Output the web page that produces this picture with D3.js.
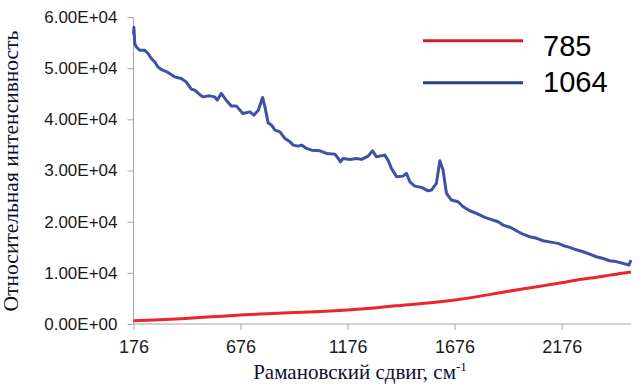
<!DOCTYPE html>
<html><head><meta charset="utf-8">
<script src="https://cdn.jsdelivr.net/npm/d3@7/dist/d3.min.js"></script>
<style>
body{margin:0;background:#fff;}
svg{display:block;}
.serif{font-family:"Liberation Serif","Times New Roman","DejaVu Serif",serif;}
.sans{font-family:"Liberation Sans",Arial,sans-serif;}
</style></head>
<body>
<svg id="chart" width="643" height="387"></svg>
<script>
// ---- data ----
const xTicks = [176, 676, 1176, 1676, 2176];
const yTicks = [0, 10000, 20000, 30000, 40000, 50000, 60000];
const seriesNames = ["785", "1064"];

const red785X = [176, 300, 400, 540, 676, 800, 900, 1050, 1176, 1300, 1400, 1550, 1676, 1790, 1887, 2000, 2100, 2176, 2260, 2340, 2400, 2460, 2500];
const red785Y = [650, 850, 1050, 1400, 1750, 2000, 2200, 2450, 2750, 3150, 3550, 4100, 4700, 5400, 6100, 6900, 7550, 8050, 8700, 9150, 9550, 9900, 10150];

const blue1064X = [176, 178, 182, 189, 205, 228, 244, 259, 275, 290, 306, 337, 368, 399, 422, 446, 462, 485, 500, 532, 555, 567, 586, 609, 633, 656, 687, 720, 738, 759, 779, 790, 805, 821, 837, 860, 883, 907, 922, 945, 961, 985, 1008, 1047, 1078, 1117, 1132, 1143, 1155, 1187, 1218, 1241, 1272, 1293, 1311, 1350, 1365, 1381, 1405, 1435, 1451, 1467, 1490, 1521, 1552, 1568, 1591, 1607, 1622, 1638, 1661, 1692, 1716, 1747, 1778, 1817, 1856, 1879, 1902, 1935, 1965, 1995, 2027, 2060, 2089, 2125, 2159, 2185, 2214, 2245, 2276, 2310, 2338, 2370, 2400, 2430, 2462, 2490, 2500];
const blue1064Y = [56500, 58000, 54800, 54160, 53510, 53510, 52870, 51890, 51230, 50250, 49740, 49160, 48300, 47990, 47320, 45900, 45700, 44860, 44390, 44590, 44390, 43750, 45060, 43750, 42630, 42630, 41150, 41460, 40820, 41790, 44270, 42440, 39310, 38860, 37890, 37560, 36270, 35600, 34960, 34760, 34960, 34310, 33980, 33850, 33340, 33200, 32360, 31700, 32360, 32170, 32360, 32170, 32810, 33850, 32670, 33010, 32030, 30410, 28770, 28900, 29430, 27790, 26950, 26700, 26030, 26170, 27480, 31900, 30080, 25530, 24220, 23890, 22910, 22130, 21620, 20840, 20310, 19980, 19330, 18900, 18220, 17550, 17050, 16750, 16270, 16000, 15760, 15300, 14980, 14500, 14120, 13600, 13140, 12800, 12360, 12200, 11850, 11520, 12500];

// ---- layout ----
const svg = d3.select("#chart");
const x = d3.scaleLinear().domain([176, 2500]).range([133.5, 631]);
const y = d3.scaleLinear().domain([0, 60000]).range([324, 17]);

function sci(v){
  if (v === 0) return "0.00E+00";
  const e = Math.floor(Math.log10(Math.abs(v)));
  const m = v / Math.pow(10, e);
  return m.toFixed(2) + "E" + (e >= 0 ? "+" : "-") + String(Math.abs(e)).padStart(2, "0");
}

const axisColor = "#a6a6a6";

// y axis
const gy = svg.append("g").attr("transform", "translate(133.5,0)")
  .call(d3.axisLeft(y).tickValues(yTicks).tickFormat(sci).tickSize(6).tickPadding(10));
gy.attr("font-family", null);
gy.select(".domain").attr("stroke", axisColor).attr("d", "M0," + y(60000) + "V" + y(0));
gy.selectAll(".tick line").attr("stroke", axisColor);
gy.selectAll(".tick text").attr("class", "sans").attr("font-size", 17).attr("fill", "#1a1a1a");

// x axis
const gx = svg.append("g").attr("transform", "translate(0,324)")
  .call(d3.axisBottom(x).tickValues(xTicks).tickFormat(d3.format("d")).tickSize(6).tickPadding(10));
gx.attr("font-family", null);
gx.select(".domain").attr("stroke", axisColor).attr("d", "M" + x(176) + ",0H" + x(2500));
gx.selectAll(".tick line").attr("stroke", axisColor);
gx.selectAll(".tick text").attr("class", "sans").attr("font-size", 18).attr("fill", "#1a1a1a");

// lines
const red = red785X.map((d, i) => [d, red785Y[i]]);
const blue = blue1064X.map((d, i) => [d, blue1064Y[i]]);

svg.append("path").datum(red)
  .attr("fill", "none").attr("stroke", "#e8262c").attr("stroke-width", 3)
  .attr("d", d3.line().x(d => x(d[0])).y(d => y(d[1])).curve(d3.curveMonotoneX));

svg.append("path").datum(blue)
  .attr("fill", "none").attr("stroke", "#3f51a6").attr("stroke-width", 3).attr("stroke-linejoin", "round")
  .attr("d", d3.line().x(d => x(d[0])).y(d => y(d[1])));

// axis titles
const xt = svg.append("text").attr("class", "serif").attr("x", 360).attr("y", 379).attr("text-anchor", "middle")
  .attr("font-size", 21).attr("fill", "#0d0d2e");
xt.append("tspan").text("Рамановский сдвиг, см");
xt.append("tspan").attr("dy", -8).attr("font-size", 13).text("-1");

svg.append("text").attr("class", "serif").attr("transform", "translate(18,171) rotate(-90)").attr("text-anchor", "middle")
  .attr("font-size", 21.5).attr("fill", "#0d0d2e")
  .text("Относительная интенсивность");

// legend
const legColors = ["#c8232c", "#2d3b8e"];
const legY = [40.7, 82.7];
const legTextY = [55.7, 91.7];
seriesNames.forEach((n, i) => {
  svg.append("line").attr("x1", 423).attr("x2", 523).attr("y1", legY[i]).attr("y2", legY[i])
    .attr("stroke", legColors[i]).attr("stroke-width", 3);
  svg.append("text").attr("class", "sans").attr("x", 543).attr("y", legTextY[i])
    .attr("font-size", 29).attr("fill", "#000")
    .text(n);
});
</script>
</body></html>
